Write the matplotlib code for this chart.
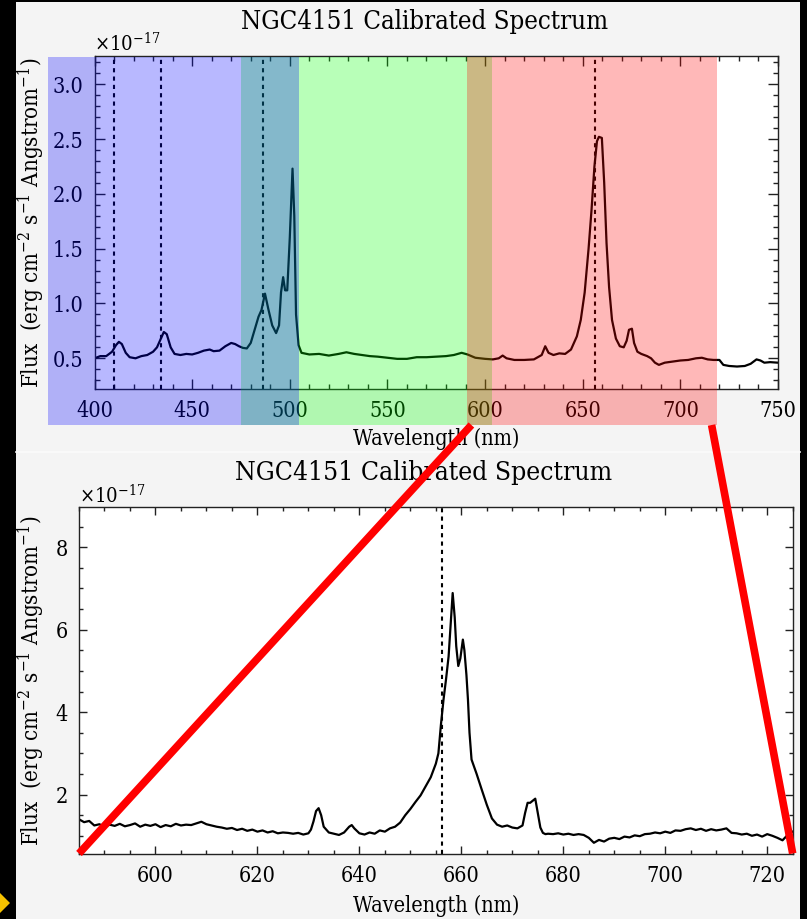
import matplotlib
matplotlib.use("Agg")
import matplotlib.pyplot as plt
from matplotlib.patches import Rectangle, Polygon, ConnectionPatch
from matplotlib.lines import Line2D
from matplotlib.ticker import MultipleLocator

# ---------------- data ----------------
wl_full = [400, 403, 406, 409, 411, 412.5, 414, 416, 418, 421, 424, 427, 430, 432, 434, 435.5,
           437, 439, 441, 444, 447, 450, 453, 456, 459, 461, 464, 467, 470, 472, 474, 476, 478,
           480, 482, 484, 485.5, 487.3, 489, 491, 493, 494.5, 495.5, 496.6, 497.6, 498.7, 500,
           501.4, 502.3, 503.2, 504.5, 506, 510, 515, 520, 525, 529, 533, 537, 541, 545, 550,
           555, 560, 565, 570, 575, 580, 584, 588, 591, 595, 600, 604, 607, 609, 611, 615, 620,
           625, 629, 630.8, 632.5, 635, 638, 641, 644, 647, 649, 651, 653, 654.5, 656, 657.3,
           658.3, 659.8, 661, 662.2, 663.5, 665, 667, 669, 671, 672.5, 673.7, 675.2, 676.3, 678,
           680, 683, 685, 687, 689, 692, 696, 700, 704, 708, 711, 714, 717, 720, 722, 725, 729,
           733, 736, 739, 741, 743, 746, 750]
flux_full = [0.50, 0.52, 0.52, 0.56, 0.62, 0.65, 0.63, 0.55, 0.51, 0.50, 0.52, 0.53, 0.56, 0.60,
             0.68, 0.74, 0.72, 0.60, 0.54, 0.53, 0.54, 0.535, 0.55, 0.57, 0.58, 0.565, 0.57, 0.61,
             0.64, 0.63, 0.61, 0.595, 0.59, 0.64, 0.76, 0.88, 0.94, 1.09, 0.95, 0.80, 0.73, 0.80,
             1.10, 1.24, 1.12, 1.12, 1.60, 2.23, 1.80, 0.90, 0.62, 0.55, 0.535, 0.54, 0.525, 0.54,
             0.555, 0.54, 0.53, 0.52, 0.515, 0.505, 0.495, 0.495, 0.51, 0.51, 0.515, 0.52, 0.53,
             0.55, 0.535, 0.505, 0.495, 0.49, 0.50, 0.525, 0.50, 0.485, 0.485, 0.49, 0.53, 0.61,
             0.55, 0.53, 0.545, 0.54, 0.58, 0.70, 0.85, 1.10, 1.50, 1.85, 2.25, 2.48, 2.52, 2.51,
             2.10, 1.55, 1.15, 0.85, 0.68, 0.61, 0.60, 0.66, 0.76, 0.77, 0.64, 0.56, 0.54, 0.52,
             0.50, 0.46, 0.44, 0.46, 0.47, 0.48, 0.485, 0.50, 0.505, 0.49, 0.485, 0.485, 0.44,
             0.43, 0.425, 0.43, 0.45, 0.49, 0.48, 0.46, 0.465, 0.46]

wl_zoom = [585, 586, 587, 588, 589, 590, 591, 592, 593, 594, 595, 596, 597, 598, 599, 600, 601,
           602, 603, 604, 605, 606, 607, 608, 609, 610, 611, 612, 613, 614, 615, 616, 617, 618,
           619, 620, 621, 622, 623, 624, 625, 626, 627, 628, 629, 630, 630.5, 631, 631.5, 632,
           632.5, 633, 634, 635, 636, 637, 638, 638.5, 639, 640, 641, 642, 643, 644, 645, 646,
           647, 648, 649, 650, 651, 652, 653, 654, 655, 655.5, 656, 656.5, 657, 657.5, 658,
           658.3, 658.7, 659, 659.4, 659.8, 660.3, 660.6, 661, 661.3, 661.6, 662, 663, 664, 665,
           666, 667, 668, 669, 670, 671, 672, 672.5, 673, 673.5, 674, 674.5, 675, 675.5, 676,
           676.5, 677, 678, 679, 680, 681, 682, 683, 684, 685, 686, 687, 688, 689, 690, 691,
           692, 693, 694, 695, 696, 697, 698, 699, 700, 701, 702, 703, 704, 705, 706, 707, 708,
           709, 710, 711, 712, 713, 714, 715, 716, 717, 718, 719, 720, 721, 722, 723, 724, 725]
flux_zoom = [1.40, 1.33, 1.36, 1.25, 1.28, 1.22, 1.27, 1.24, 1.29, 1.23, 1.26, 1.30, 1.22, 1.27,
             1.24, 1.28, 1.21, 1.26, 1.23, 1.29, 1.25, 1.27, 1.26, 1.30, 1.34, 1.28, 1.25, 1.22,
             1.20, 1.17, 1.19, 1.14, 1.17, 1.12, 1.15, 1.10, 1.13, 1.08, 1.11, 1.06, 1.08, 1.07,
             1.05, 1.07, 1.03, 1.06, 1.15, 1.35, 1.60, 1.67, 1.50, 1.22, 1.08, 1.05, 1.02, 1.08,
             1.22, 1.26, 1.18, 1.06, 1.03, 1.08, 1.05, 1.13, 1.10, 1.18, 1.22, 1.32, 1.50, 1.65,
             1.82, 1.98, 2.20, 2.42, 2.75, 3.00, 3.70, 4.30, 4.80, 5.35, 6.30, 6.89, 6.30, 5.60,
             5.12, 5.30, 5.76, 5.50, 4.90, 4.30, 3.50, 2.85, 2.50, 2.12, 1.75, 1.42, 1.27, 1.22,
             1.25, 1.20, 1.18, 1.25, 1.55, 1.80, 1.80, 1.85, 1.90, 1.55, 1.20, 1.07, 1.04, 1.05,
             1.04, 1.06, 1.03, 1.05, 1.02, 1.04, 1.02, 0.95, 0.83, 0.90, 0.86, 0.93, 0.95, 0.92,
             0.98, 0.96, 1.01, 0.99, 1.04, 1.05, 1.08, 1.06, 1.10, 1.07, 1.13, 1.12, 1.16, 1.18,
             1.14, 1.17, 1.12, 1.16, 1.13, 1.15, 1.18, 1.07, 1.06, 1.03, 1.05, 1.00, 1.03, 0.98,
             1.04, 1.00, 0.95, 0.89, 1.02, 1.10]

balmer_full = [410.2, 434.0, 486.1, 656.3]
balmer_zoom = [656.3]

bands = [("green", 475.0, 603.6), ("blue", 376.3, 504.7), ("red", 590.6, 719.0)]
band_colors = {"green": "#00ff00", "blue": "#0000ff", "red": "#ff0000"}

title = "NGC4151 Calibrated Spectrum"
xlabel = "Wavelength (nm)"
ylabel = r"Flux  (erg cm$^{-2}$ s$^{-1}$ Angstrom$^{-1}$)"
offset_label = r"$\times$10$^{-17}$"

# ---------------- style ----------------
W, H = 807, 919
plt.rcParams["font.family"] = ["DejaVu Serif"]
plt.rcParams["font.stretch"] = "condensed"
plt.rcParams["mathtext.fontset"] = "dejavuserif"
SPINE = "#222222"
BG = "#f4f4f4"

fig = plt.figure(figsize=(W / 100, H / 100), dpi=100)
fig.patch.set_facecolor("black")


def fx(px):
    return px / W


def fy(py):
    return 1 - py / H


# gray panel (behind the axes)
fig.patches.append(Rectangle((fx(16), 0), fx(800) - fx(16), fy(2), transform=fig.transFigure,
                             facecolor=BG, edgecolor="none", zorder=-5))
fig.lines.append(Line2D([fx(16), fx(800)], [fy(452), fy(452)], transform=fig.transFigure,
                        color="#fbfbfb", lw=1.2, zorder=-4))
# yellow pointer at lower left
fig.patches.append(Polygon([(fx(0), fy(893)), (fx(10), fy(903)), (fx(0), fy(913))],
                           closed=True, transform=fig.transFigure, facecolor="#f6c200",
                           edgecolor="none", zorder=-4))


def style_axes(ax, major_len, minor_len):
    ax.set_facecolor("white")
    for s in ax.spines.values():
        s.set_color(SPINE)
        s.set_linewidth(1.0)
    ax.tick_params(which="both", direction="in", top=True, right=True, colors=SPINE,
                   labelcolor="black", width=1.0)
    ax.tick_params(which="major", length=major_len, pad=8)
    ax.tick_params(which="minor", length=minor_len)


TICK_FS = 15.5
XLABEL_FS = 15.5
YLABEL_FS = 16
OFFSET_FS = 14.5

# ---------------- top axes ----------------
ax1_w = 778 - 94.5
ax1_h = 389 - 55.7
ax1 = fig.add_axes([fx(94.5), fy(389), fx(778) - fx(94.5), ax1_h / H])
ax1.plot(wl_full, flux_full, color="black", lw=1.6, zorder=2)
for w in balmer_full:
    ax1.axvline(w, color="black", lw=1.5, ls=(0, (2, 2)), zorder=2)
ax1.set_xlim(400, 750)
ax1.set_ylim(0.22, 3.26)
ax1.xaxis.set_major_locator(MultipleLocator(50))
ax1.xaxis.set_minor_locator(MultipleLocator(10))
ax1.yaxis.set_major_locator(MultipleLocator(0.5))
ax1.yaxis.set_minor_locator(MultipleLocator(0.1))
ax1.yaxis.set_major_formatter(matplotlib.ticker.FormatStrFormatter("%.1f"))
style_axes(ax1, 7, 3.6)
for lab in ax1.get_xticklabels() + ax1.get_yticklabels():
    lab.set_fontsize(TICK_FS)
ax1.set_xlabel(xlabel, fontsize=XLABEL_FS, labelpad=4)
ax1.set_ylabel(ylabel, fontsize=YLABEL_FS)
ax1.yaxis.set_label_coords((47 - 94.5) / ax1_w, 0.5)
ax1.set_title(title, fontsize=18.5, pad=19, x=(425 - 94.5) / ax1_w)
ax1.text(0.0, 1.012, offset_label, transform=ax1.transAxes, fontsize=OFFSET_FS, ha="left",
         va="baseline")

y_lo = (389 - 425) / ax1_h
y_hi = (389 - 57.3) / ax1_h
for name, x0, x1 in bands:
    ax1.add_patch(Rectangle((x0, y_lo), x1 - x0, y_hi - y_lo, transform=ax1.get_xaxis_transform(),
                            facecolor=band_colors[name], alpha=0.28, edgecolor="none",
                            clip_on=False, zorder=10))

# ---------------- bottom axes ----------------
ax2_w = 792.7 - 79
ax2_h = 853.5 - 507.3
ax2 = fig.add_axes([fx(79), fy(853.5), ax2_w / W, ax2_h / H])
ax2.plot(wl_zoom, flux_zoom, color="black", lw=1.6, zorder=2)
for w in balmer_zoom:
    ax2.axvline(w, color="black", lw=1.5, ls=(0, (2, 2)), zorder=2)
ax2.set_xlim(585, 725)
ax2.set_ylim(0.57, 8.97)
ax2.xaxis.set_major_locator(MultipleLocator(20))
ax2.xaxis.set_minor_locator(MultipleLocator(5))
ax2.yaxis.set_major_locator(MultipleLocator(2))
ax2.yaxis.set_minor_locator(MultipleLocator(0.5))
style_axes(ax2, 6, 3)
for lab in ax2.get_xticklabels() + ax2.get_yticklabels():
    lab.set_fontsize(TICK_FS)
ax2.set_xlabel(xlabel, fontsize=XLABEL_FS, labelpad=6)
ax2.set_ylabel(ylabel, fontsize=YLABEL_FS)
ax2.yaxis.set_label_coords((47 - 79) / ax2_w, 0.5)
ax2.set_title(title, fontsize=19, pad=20, x=(424 - 79) / ax2_w)
ax2.text(0.0, 1.012, offset_label, transform=ax2.transAxes, fontsize=OFFSET_FS, ha="left",
         va="baseline")

# ---------------- red zoom connectors ----------------
for xa, xb in [(593.0, 0.0), (716.0, 1.0)]:
    con = ConnectionPatch(xyA=(xa, y_lo), coordsA=ax1.get_xaxis_transform(),
                          xyB=(xb, 0.0), coordsB=ax2.transAxes,
                          color="#ff0000", lw=5.5, capstyle="butt", zorder=20)
    fig.add_artist(con)

fig.savefig("out.png", dpi=100, facecolor=fig.get_facecolor())
